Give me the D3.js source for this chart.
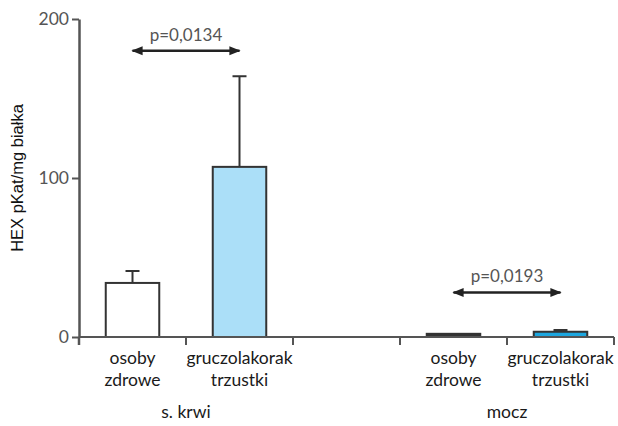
<!DOCTYPE html>
<html><head><meta charset="utf-8">
<script src="https://cdn.jsdelivr.net/npm/d3@7"></script>
<style>body{margin:0;background:#fff}svg{display:block}</style>
</head><body>
<script>
const slots = ["k0","k1","gap","m0","m1"];
const categories = ["osoby zdrowe","gruczolakorak trzustki","","osoby zdrowe","gruczolakorak trzustki"];
const values = [34, 107, null, 2, 3.3];
const errors = [41.5, 164, null, null, 4.4];
const fills = ["#ffffff","#abdff8",null,"#333333","#1ca6df"];
const groups = [{name:"s. krwi", from:0, to:1},{name:"mocz", from:3, to:4}];
const yTicks = [0,100,200];
const pvals = [{text:"p=0,0134", y:180, from:0, to:1},{text:"p=0,0193", y:28, from:3, to:4}];

const W=618,H=426;
const svg=d3.select("body").append("svg").attr("width",W).attr("height",H);
const x=d3.scaleBand().domain(slots).range([79,614]).paddingInner(0).paddingOuter(0);
const y=d3.scaleLinear().domain([0,200]).range([337,19]);
const font="Lato, 'Open Sans', sans-serif";

// y axis
const ya=svg.append("g").attr("transform","translate(79,0)").call(d3.axisLeft(y).tickValues(yTicks).tickSize(7).tickSizeOuter(0));
ya.select(".domain").attr("stroke","#555").attr("stroke-width",2.5);
ya.selectAll(".tick line").attr("stroke","#555").attr("stroke-width",2);
ya.selectAll(".tick text").attr("font-family",font).attr("font-size",17.5).attr("fill","#555").attr("x",-10);

// bars
const bw=x.bandwidth()*0.5;
slots.forEach((s,i)=>{
  if(values[i]==null) return;
  const cx=x(s)+x.bandwidth()/2;
  if(errors[i]!=null){
    svg.append("line").attr("x1",cx).attr("x2",cx).attr("y1",y(values[i])).attr("y2",y(errors[i])).attr("stroke","#333").attr("stroke-width",2);
    svg.append("line").attr("x1",cx-7).attr("x2",cx+7).attr("y1",y(errors[i])).attr("y2",y(errors[i])).attr("stroke","#333").attr("stroke-width",2);
  }
  svg.append("rect").attr("x",cx-bw/2).attr("width",bw).attr("y",y(values[i])).attr("height",y(0)-y(values[i]))
    .attr("fill",fills[i]).attr("stroke","#333").attr("stroke-width",2);
});

// x axis
const xa=svg.append("g").attr("transform","translate(0,337)");
xa.append("line").attr("x1",79).attr("x2",614).attr("stroke","#555").attr("stroke-width",2);
slots.forEach((s,i)=>{
  xa.append("line").attr("x1",x(s)+x.bandwidth()).attr("x2",x(s)+x.bandwidth()).attr("y1",0).attr("y2",8).attr("stroke","#555").attr("stroke-width",2);
});
xa.append("line").attr("x1",79).attr("x2",79).attr("y1",0).attr("y2",8).attr("stroke","#555").attr("stroke-width",2.5);

// category labels
slots.forEach((s,i)=>{
  if(!categories[i]) return;
  const cx=x(s)+x.bandwidth()/2;
  const words=categories[i].split(" ");
  const t=svg.append("text").attr("font-family",font).attr("font-size",17.5).attr("fill","#1a1a1a").attr("text-anchor","middle");
  words.forEach((w,j)=>t.append("tspan").attr("x",cx).attr("y",364+j*22).text(w));
});
// group labels
groups.forEach(g=>{
  const cx=(x(slots[g.from])+x(slots[g.to])+x.bandwidth())/2;
  svg.append("text").attr("font-family",font).attr("font-size",17.5).attr("fill","#1a1a1a").attr("text-anchor","middle").attr("x",cx).attr("y",418).text(g.name);
});

// p-value arrows
const defs=svg.append("defs");
defs.append("marker").attr("id","ah").attr("viewBox","0 0 10 10").attr("refX",9).attr("refY",5).attr("markerWidth",4.5).attr("markerHeight",4.5).attr("orient","auto-start-reverse")
  .append("path").attr("d","M0,1 L10,5 L0,9 z").attr("fill","#222");
pvals.forEach(p=>{
  const x1=x(slots[p.from])+x.bandwidth()/2, x2=x(slots[p.to])+x.bandwidth()/2;
  const yy=y(p.y);
  svg.append("line").attr("x1",x1).attr("x2",x2).attr("y1",yy).attr("y2",yy).attr("stroke","#222").attr("stroke-width",2.5)
    .attr("marker-start","url(#ah)").attr("marker-end","url(#ah)");
  svg.append("text").attr("font-family",font).attr("font-size",17).attr("fill","#555").attr("text-anchor","middle").attr("x",(x1+x2)/2).attr("y",yy-10).text(p.text);
});

// y label
svg.append("text").attr("font-family","'Liberation Sans', Arial, sans-serif").attr("font-size",16.5).attr("fill","#111").attr("text-anchor","middle")
  .attr("transform","translate(23,178) rotate(-90)").text("HEX pKat/mg białka");
</script>
</body></html>
